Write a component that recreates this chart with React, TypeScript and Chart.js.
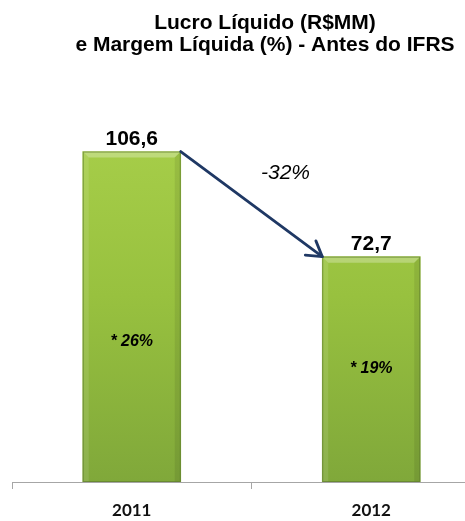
import React, { useEffect, useRef } from "react";
import { Chart, registerables } from "chart.js";

Chart.register(...registerables);

const categories = ["2011", "2012"];
const lucroLiquido = [106.6, 72.7];
const valueLabels = ["106,6", "72,7"];
const marginLabels = ["* 26%", "* 19%"];
const variationLabel = "-32%";
const titleLines = ["Lucro Líquido (R$MM)", "e Margem Líquida (%) - Antes do IFRS"];
const yMax = 120;

// style-only: vertical placement of margin labels as fraction of bar height
const marginLabelFrac = [0.425, 0.503];

const overlayPlugin = {
  id: "overlay",
  afterDatasetsDraw(chart: any) {
    const ctx = chart.ctx;
    const meta = chart.getDatasetMeta(0);
    const base = chart.chartArea.bottom;
    ctx.save();
    // bevel effect
    meta.data.forEach((bar: any) => {
      const w = bar.width;
      const l = bar.x - w / 2;
      const r = bar.x + w / 2;
      const t = bar.y;
      const b = base;
      const s = 6;
      const poly = (pts: number[][], fill: string) => {
        ctx.beginPath();
        ctx.moveTo(pts[0][0], pts[0][1]);
        for (let i = 1; i < pts.length; i++) ctx.lineTo(pts[i][0], pts[i][1]);
        ctx.closePath();
        ctx.fillStyle = fill;
        ctx.fill();
      };
      poly([[l, t], [r, t], [r - s, t + s], [l + s, t + s]], "rgba(255,255,255,0.28)");
      poly([[l, t], [l + s, t + s], [l + s, b], [l, b]], "rgba(255,255,255,0.10)");
      poly([[r, t], [r, b], [r - s, b], [r - s, t + s]], "rgba(0,0,0,0.08)");
      ctx.strokeStyle = "rgba(95,125,45,0.7)";
      ctx.lineWidth = 1;
      ctx.strokeRect(l + 0.5, t + 0.5, w - 1, b - t - 1);
    });

    // value labels
    ctx.fillStyle = "#000000";
    ctx.textAlign = "center";
    ctx.textBaseline = "alphabetic";
    ctx.font = "bold 21px 'Liberation Sans', Arial, sans-serif";
    meta.data.forEach((bar: any, i: number) => {
      ctx.fillText(valueLabels[i], bar.x, bar.y - 7);
    });

    // margin labels
    ctx.font = "italic bold 16px 'Liberation Sans', Arial, sans-serif";
    ctx.textBaseline = "middle";
    meta.data.forEach((bar: any, i: number) => {
      const y = base - marginLabelFrac[i] * (base - bar.y);
      ctx.fillText(marginLabels[i], bar.x, y);
    });

    // arrow
    const b0 = meta.data[0];
    const b1 = meta.data[1];
    const x0 = b0.x + b0.width / 2;
    const y0 = b0.y;
    const x1 = b1.x - b1.width / 2;
    const y1 = b1.y;
    ctx.strokeStyle = "#1f3864";
    ctx.lineWidth = 2.8;
    ctx.lineCap = "round";
    ctx.lineJoin = "round";
    ctx.beginPath();
    ctx.moveTo(x0, y0);
    ctx.lineTo(x1, y1);
    ctx.stroke();
    const ang = Math.atan2(y1 - y0, x1 - x0);
    const hl = 17;
    const ha = 0.55;
    ctx.beginPath();
    ctx.moveTo(x1 - hl * Math.cos(ang - ha), y1 - hl * Math.sin(ang - ha));
    ctx.lineTo(x1, y1);
    ctx.lineTo(x1 - hl * Math.cos(ang + ha), y1 - hl * Math.sin(ang + ha));
    ctx.stroke();

    // variation label
    ctx.fillStyle = "#000000";
    ctx.font = "italic 21px 'Liberation Sans', Arial, sans-serif";
    ctx.textAlign = "center";
    ctx.textBaseline = "middle";
    ctx.fillText(variationLabel, (x0 + x1) / 2 + 34, (y0 + y1) / 2 - 31);

    // title
    ctx.font = "bold 21px 'Liberation Sans', Arial, sans-serif";
    ctx.textBaseline = "alphabetic";
    ctx.fillText(titleLines[0], 265, 29);
    ctx.fillText(titleLines[1], 265, 51);
    ctx.restore();
  },
};

export default function App() {
  const ref = useRef<HTMLCanvasElement>(null);
  useEffect(() => {
    if (!ref.current) return;
    const chart = new Chart(ref.current, {
      type: "bar",
      data: {
        labels: categories,
        datasets: [
          {
            data: lucroLiquido,
            barThickness: 98,
            borderWidth: 0,
            backgroundColor: (c: any) => {
              const area = c.chart.chartArea;
              if (!area) return "#9cc43d";
              const g = c.chart.ctx.createLinearGradient(0, area.top, 0, area.bottom);
              g.addColorStop(0, "#a9d04b");
              g.addColorStop(0.5, "#98c13f");
              g.addColorStop(1, "#80a83a");
              return g;
            },
          },
        ],
      },
      options: {
        responsive: false,
        animation: false,
        devicePixelRatio: 1,
        layout: { padding: { top: 110, left: 12, right: 4, bottom: 0 } },
        plugins: { legend: { display: false }, tooltip: { enabled: false }, title: { display: false } },
        scales: {
          x: {
            offset: true,
            afterFit: (scale: any) => {
              scale.height = 39;
            },
            grid: { offset: true, drawOnChartArea: false, tickLength: 7, color: "#a6a6a6" },
            border: { display: true, color: "#a6a6a6", width: 1 },
            ticks: {
              padding: 11,
              color: "#111111",
              font: { family: "Lato, 'Open Sans', sans-serif", weight: "bold", size: 17 },
            },
          },
          y: { display: false, min: 0, max: yMax },
        },
      },
      plugins: [overlayPlugin],
    });
    return () => chart.destroy();
  }, []);
  return (
    <div style={{ position: "absolute", left: 0, top: 0, width: 465, height: 521, overflow: "hidden", background: "#fff" }}>
      <canvas ref={ref} width={495} height={521} style={{ display: "block" }} />
    </div>
  );
}
